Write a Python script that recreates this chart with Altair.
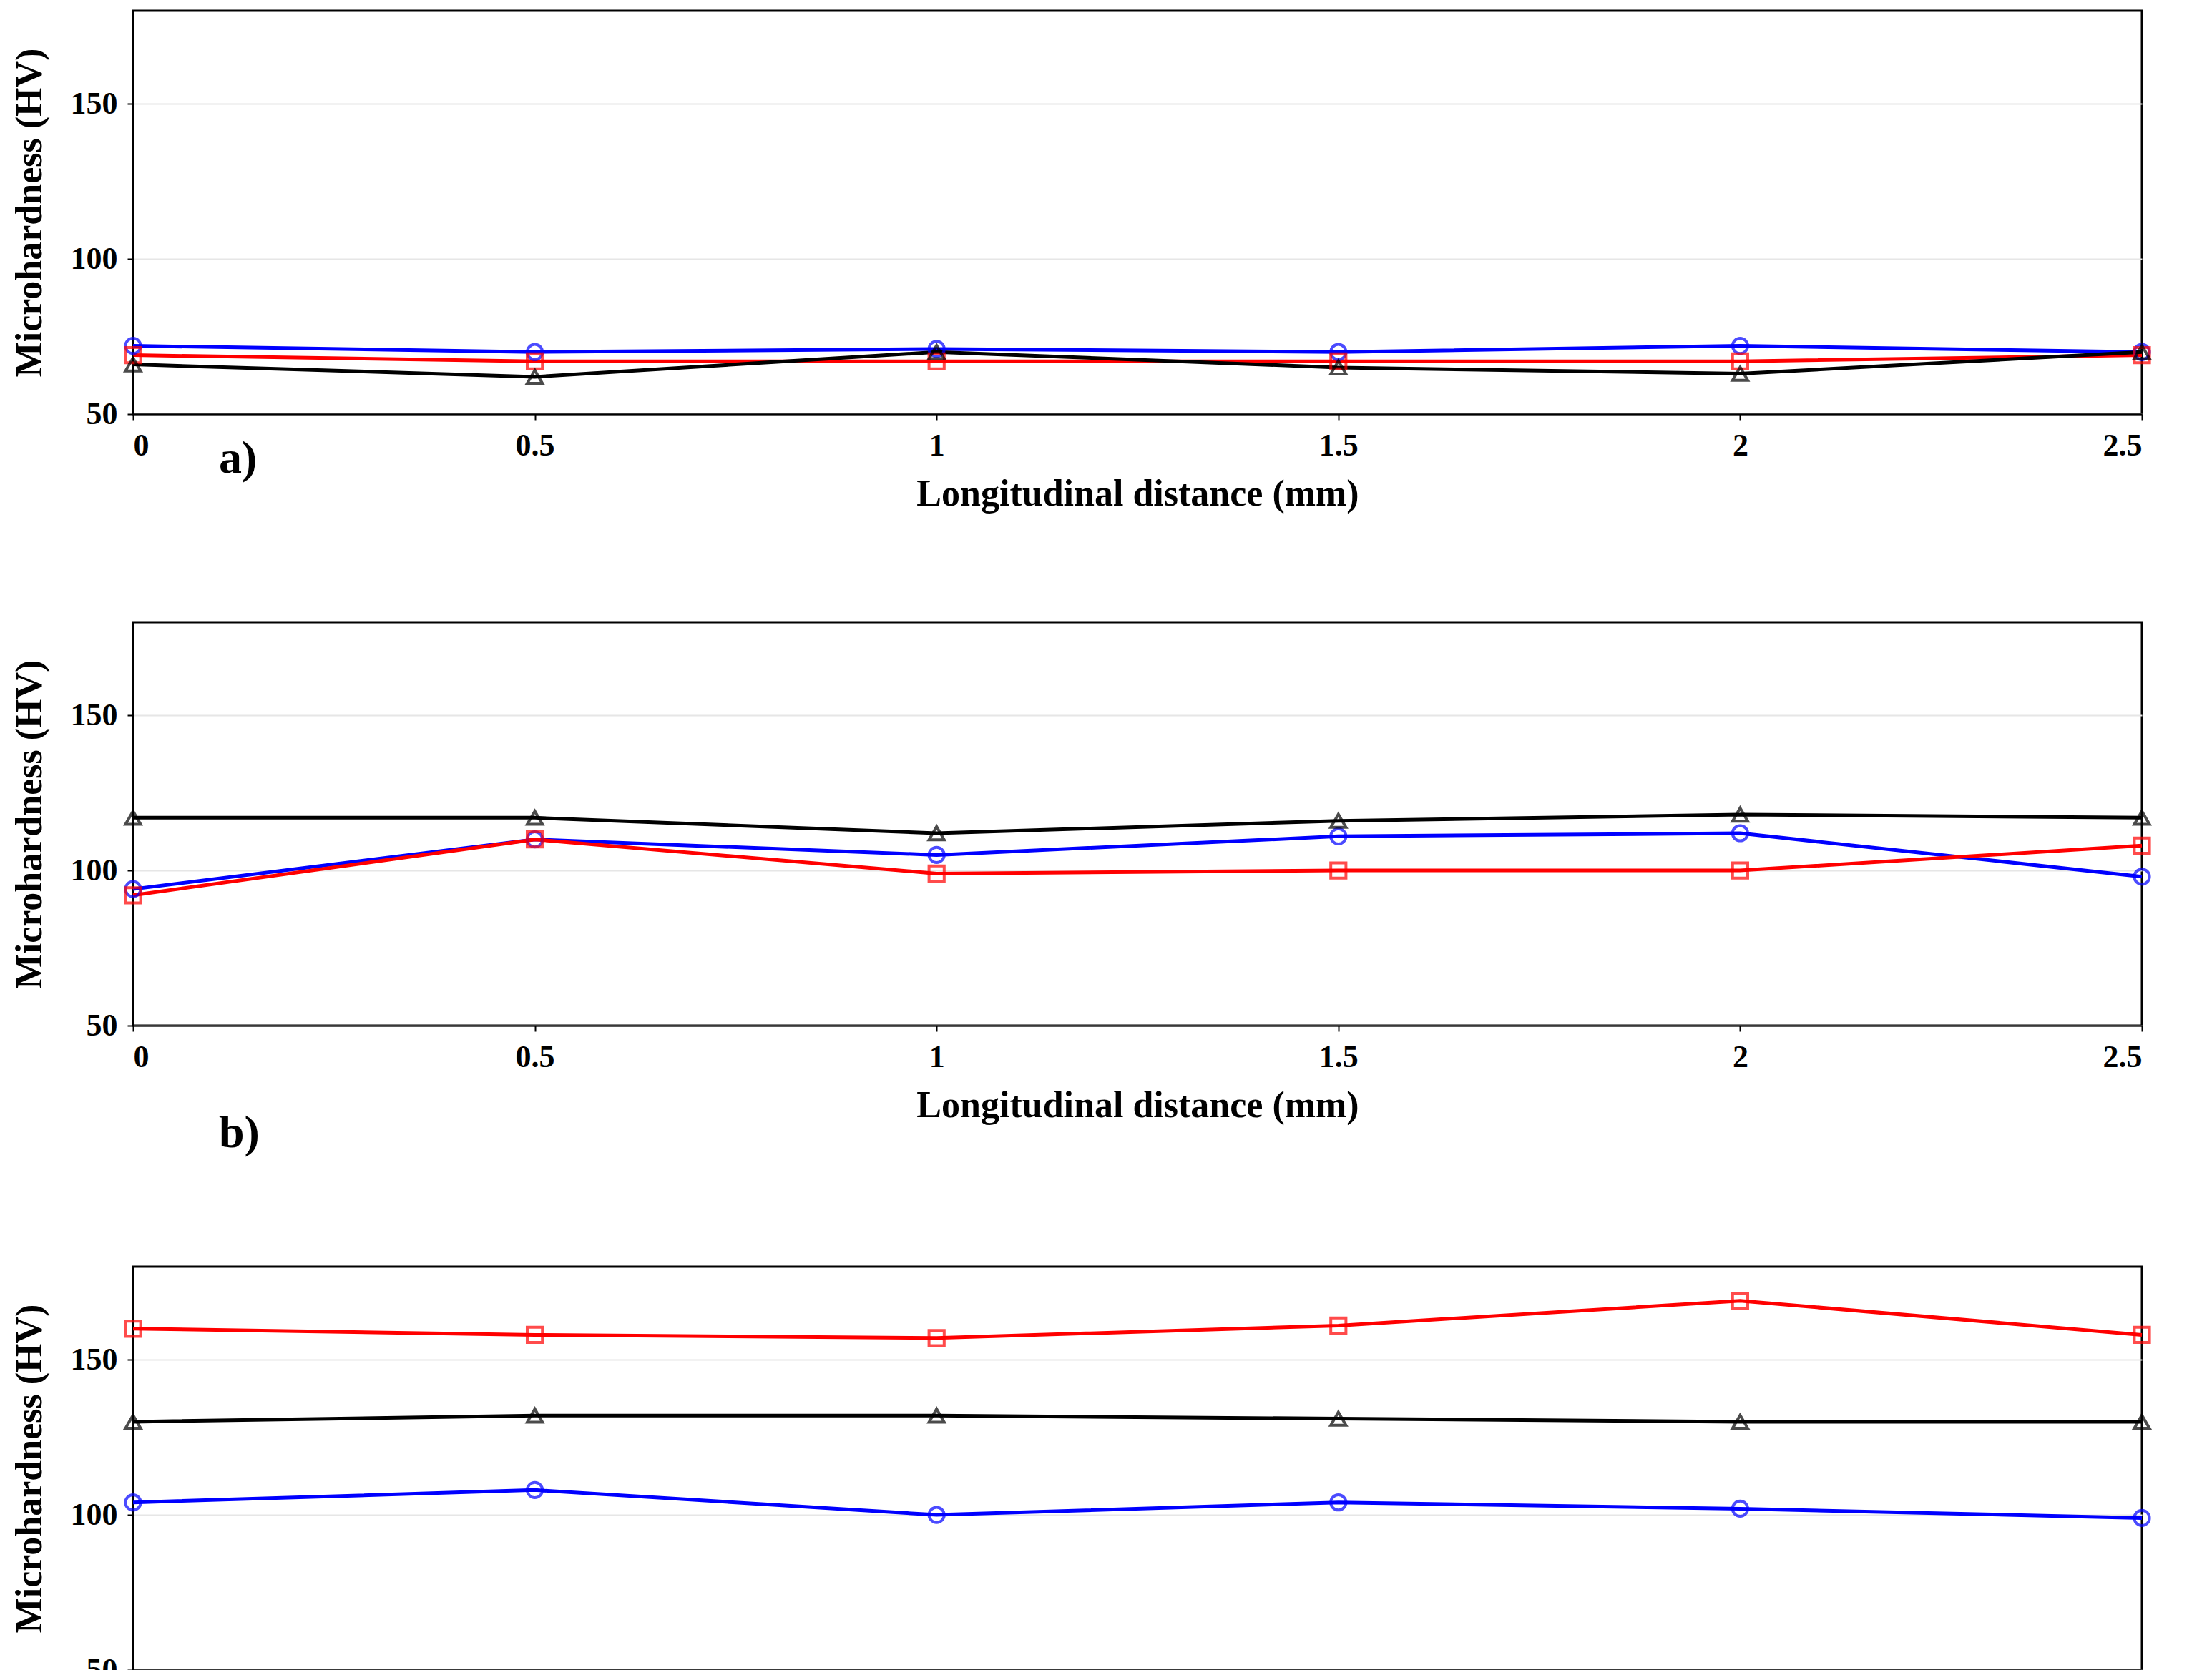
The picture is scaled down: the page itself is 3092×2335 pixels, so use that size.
import altair as alt
import pandas as pd

x_vals = [0, 0.5, 1, 1.5, 2, 2.5]
series = ["Top", "Middle", "Bottom"]
a_top = [72, 70, 71, 70, 72, 70]
a_mid = [69, 67, 67, 67, 67, 69]
a_bot = [66, 62, 70, 65, 63, 70]
b_top = [94, 110, 105, 111, 112, 98]
b_mid = [92, 110, 99, 100, 100, 108]
b_bot = [117, 117, 112, 116, 118, 117]
c_top = [104, 108, 100, 104, 102, 99]
c_mid = [160, 158, 157, 161, 169, 158]
c_bot = [130, 132, 132, 131, 130, 130]

FONT = "Liberation Serif"
W, H = 2808, 564

def make_df(t, m, b):
    rows = []
    for name, vals in zip(series, [t, m, b]):
        for x, v in zip(x_vals, vals):
            rows.append({"x": x, "y": v, "Series": name})
    return pd.DataFrame(rows)

color = alt.Scale(domain=series, range=["#0000ff", "#ff0000", "#000000"])
shape = alt.Scale(domain=series, range=["circle", "square", "triangle-up"])

def panel(df, label, label_y, legend_orient):
    base = alt.Chart(df)
    xenc = alt.X("x:Q", scale=alt.Scale(domain=[0, 2.5], nice=False),
                 axis=alt.Axis(values=x_vals, title="Longitudinal distance (mm)", grid=False,
                               labelExpr="format(datum.value, '~g')"))
    yenc = alt.Y("y:Q", scale=alt.Scale(domain=[50, 180], nice=False),
                 axis=alt.Axis(values=[50, 100, 150], title="Microhardness (HV)", grid=True))
    line = base.mark_line(strokeWidth=5).encode(
        x=xenc, y=yenc, color=alt.Color("Series:N", scale=color, legend=None), detail="Series:N")
    pts = base.mark_point(filled=False, size=450, strokeWidth=4).encode(
        x=xenc, y=yenc,
        color=alt.Color("Series:N", scale=color,
                        legend=alt.Legend(title=None, orient=legend_orient)),
        shape=alt.Shape("Series:N", scale=shape, legend=alt.Legend(title=None, orient=legend_orient)))
    txt = alt.Chart(pd.DataFrame({"t": [label]})).mark_text(
        font=FONT, fontSize=64, fontWeight="bold", align="left").encode(
        text="t:N", x=alt.value(120), y=alt.value(label_y))
    return alt.layer(line, pts, txt).properties(width=W, height=H).resolve_scale(color="shared")

pa = panel(make_df(a_top, a_mid, a_bot), "a)", 627, "top-right")
pb = panel(make_df(b_top, b_mid, b_bot), "b)", 715, "top-right")
pc = panel(make_df(c_top, c_mid, c_bot), "c)", 646, "bottom-right")

chart = alt.vconcat(pa, pb, pc, spacing=150).resolve_legend(color="independent", shape="independent").configure(
    font=FONT
).configure_axis(
    labelFont=FONT, titleFont=FONT, labelFontSize=44, titleFontSize=52,
    labelFontWeight="bold", titleFontWeight="bold", labelColor="black", titleColor="black",
    domainColor="black", tickColor="black", domainWidth=2, tickWidth=2, tickSize=8,
    gridColor="#e6e6e6", gridWidth=2, labelPadding=14, titlePadding=20,
).configure_axisY(titlePadding=30).configure_view(stroke="black", strokeWidth=3).configure_legend(
    labelFont=FONT, labelFontSize=40, labelFontWeight="bold", labelColor="black",
    fillColor="white", strokeColor="black", padding=14, symbolSize=450, symbolStrokeWidth=4,
    rowPadding=8, offset=30,
)
chart.save("out.html", embed_options={"renderer": "svg", "actions": False})
